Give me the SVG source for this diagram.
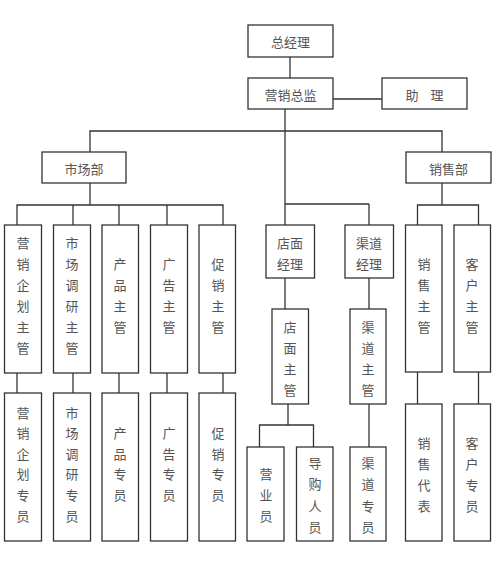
<svg xmlns="http://www.w3.org/2000/svg" width="500" height="564" viewBox="0 0 500 564">
<style>
rect{fill:#fff;stroke:#333;stroke-width:1.3}
.c line,.c polyline{stroke:#333;stroke-width:1.3;fill:none}
text{font-family:"Noto Sans CJK SC","Noto Sans",sans-serif;font-size:13px;fill:#555;text-anchor:middle;dominant-baseline:central}
</style>
<rect x="0" y="0" width="500" height="564" style="stroke:none"/>
<g class="c" id="connectors">
<line x1="290" y1="57" x2="290" y2="78"/>
<line x1="333" y1="99" x2="382" y2="99"/>
<line x1="285" y1="109" x2="285" y2="225"/>
<polyline points="90,152 90,131 442,131 442,152"/>
<line x1="90" y1="183" x2="90" y2="205"/>
<polyline points="17,225 17,205 223,205 223,225"/>
<line x1="73" y1="205" x2="73" y2="225"/>
<line x1="119" y1="205" x2="119" y2="225"/>
<line x1="167" y1="205" x2="167" y2="225"/>
<line x1="285" y1="204" x2="369" y2="204"/>
<line x1="369" y1="204" x2="369" y2="225"/>
<line x1="442" y1="183" x2="442" y2="205"/>
<polyline points="417.5,225 417.5,205 478.5,205 478.5,225"/>
<line x1="17" y1="373" x2="17" y2="393"/>
<line x1="73" y1="373" x2="73" y2="393"/>
<line x1="119" y1="373" x2="119" y2="393"/>
<line x1="167" y1="373" x2="167" y2="393"/>
<line x1="223" y1="373" x2="223" y2="393"/>
<line x1="285" y1="278" x2="285" y2="309"/>
<line x1="369" y1="278" x2="369" y2="309"/>
<line x1="288" y1="404" x2="288" y2="425"/>
<polyline points="259.5,447 259.5,425 313.5,425 313.5,447"/>
<line x1="369" y1="404" x2="369" y2="447"/>
<line x1="417.5" y1="372" x2="417.5" y2="404"/>
<line x1="478.5" y1="372" x2="478.5" y2="404"/>
</g>
<g id="n-zjl"><rect x="248" y="25" width="85" height="32"/><text x="290.5" y="41.5">总经理</text></g>
<g id="n-yxzj"><rect x="248" y="78" width="85" height="31"/><text x="290.5" y="94">营销总监</text></g>
<g id="n-zl"><rect x="382" y="78" width="85" height="31"/><text x="424.5" y="94"><tspan x="412">助</tspan><tspan x="437">理</tspan></text></g>
<g id="n-scb"><rect x="42" y="152" width="84" height="31"/><text x="84" y="168">市场部</text></g>
<g id="n-xsb"><rect x="406" y="152" width="85" height="31"/><text x="448.5" y="168">销售部</text></g>
<g id="n-yxqhzg"><rect x="4.5" y="225" width="37" height="148"/><text><tspan x="23" y="242">营</tspan><tspan x="23" y="263">销</tspan><tspan x="23" y="284">企</tspan><tspan x="23" y="305">划</tspan><tspan x="23" y="326">主</tspan><tspan x="23" y="347">管</tspan></text></g>
<g id="n-scdyzg"><rect x="53.5" y="225" width="37" height="148"/><text><tspan x="72" y="242">市</tspan><tspan x="72" y="263">场</tspan><tspan x="72" y="284">调</tspan><tspan x="72" y="305">研</tspan><tspan x="72" y="326">主</tspan><tspan x="72" y="347">管</tspan></text></g>
<g id="n-cpzg"><rect x="102" y="225" width="36.5" height="148"/><text><tspan x="120" y="263">产</tspan><tspan x="120" y="284">品</tspan><tspan x="120" y="305">主</tspan><tspan x="120" y="326">管</tspan></text></g>
<g id="n-ggzg"><rect x="150.5" y="225" width="37" height="148"/><text><tspan x="169" y="263">广</tspan><tspan x="169" y="284">告</tspan><tspan x="169" y="305">主</tspan><tspan x="169" y="326">管</tspan></text></g>
<g id="n-cxzg"><rect x="199" y="225" width="36.5" height="148"/><text><tspan x="218" y="263">促</tspan><tspan x="218" y="284">销</tspan><tspan x="218" y="305">主</tspan><tspan x="218" y="326">管</tspan></text></g>
<g id="n-dmjl"><rect x="266" y="225" width="48.5" height="53"/><text><tspan x="290" y="242">店面</tspan><tspan x="290" y="263">经理</tspan></text></g>
<g id="n-qdjl"><rect x="345" y="225" width="48.5" height="53"/><text><tspan x="369" y="242">渠道</tspan><tspan x="369" y="263">经理</tspan></text></g>
<g id="n-xszg"><rect x="405.5" y="225" width="36.5" height="147"/><text><tspan x="424" y="263">销</tspan><tspan x="424" y="284">售</tspan><tspan x="424" y="305">主</tspan><tspan x="424" y="326">管</tspan></text></g>
<g id="n-khzg"><rect x="454" y="225" width="36.5" height="147"/><text><tspan x="472" y="263">客</tspan><tspan x="472" y="284">户</tspan><tspan x="472" y="305">主</tspan><tspan x="472" y="326">管</tspan></text></g>
<g id="n-dmzg"><rect x="272" y="309" width="36.5" height="95"/><text><tspan x="290" y="326">店</tspan><tspan x="290" y="347">面</tspan><tspan x="290" y="368">主</tspan><tspan x="290" y="389">管</tspan></text></g>
<g id="n-qdzg"><rect x="350" y="309" width="36" height="95"/><text><tspan x="368" y="326">渠</tspan><tspan x="368" y="347">道</tspan><tspan x="368" y="368">主</tspan><tspan x="368" y="389">管</tspan></text></g>
<g id="n-yxqhzy"><rect x="4.5" y="393" width="37" height="148"/><text><tspan x="23" y="412">营</tspan><tspan x="23" y="432">销</tspan><tspan x="23" y="453">企</tspan><tspan x="23" y="473">划</tspan><tspan x="23" y="494">专</tspan><tspan x="23" y="515">员</tspan></text></g>
<g id="n-scdyzy"><rect x="53.5" y="393" width="37" height="148"/><text><tspan x="72" y="412">市</tspan><tspan x="72" y="432">场</tspan><tspan x="72" y="453">调</tspan><tspan x="72" y="473">研</tspan><tspan x="72" y="494">专</tspan><tspan x="72" y="515">员</tspan></text></g>
<g id="n-cpzy"><rect x="102" y="393" width="36.5" height="148"/><text><tspan x="120" y="432">产</tspan><tspan x="120" y="453">品</tspan><tspan x="120" y="473">专</tspan><tspan x="120" y="494">员</tspan></text></g>
<g id="n-ggzy"><rect x="150.5" y="393" width="37" height="148"/><text><tspan x="169" y="432">广</tspan><tspan x="169" y="453">告</tspan><tspan x="169" y="473">专</tspan><tspan x="169" y="494">员</tspan></text></g>
<g id="n-cxzy"><rect x="199" y="393" width="36.5" height="148"/><text><tspan x="218" y="432">促</tspan><tspan x="218" y="453">销</tspan><tspan x="218" y="473">专</tspan><tspan x="218" y="494">员</tspan></text></g>
<g id="n-yyy"><rect x="247" y="447" width="37" height="94"/><text><tspan x="266" y="473">营</tspan><tspan x="266" y="494">业</tspan><tspan x="266" y="515">员</tspan></text></g>
<g id="n-dgry"><rect x="296.5" y="447" width="36.5" height="94"/><text><tspan x="315" y="462">导</tspan><tspan x="315" y="483">购</tspan><tspan x="315" y="505">人</tspan><tspan x="315" y="526">员</tspan></text></g>
<g id="n-qdzy"><rect x="350" y="447" width="36" height="94"/><text><tspan x="368" y="462">渠</tspan><tspan x="368" y="483">道</tspan><tspan x="368" y="505">专</tspan><tspan x="368" y="526">员</tspan></text></g>
<g id="n-xsdb"><rect x="405.5" y="404" width="36.5" height="137"/><text><tspan x="424" y="442">销</tspan><tspan x="424" y="463">售</tspan><tspan x="424" y="484">代</tspan><tspan x="424" y="505">表</tspan></text></g>
<g id="n-khzy"><rect x="454" y="404" width="36.5" height="137"/><text><tspan x="472" y="442">客</tspan><tspan x="472" y="463">户</tspan><tspan x="472" y="484">专</tspan><tspan x="472" y="505">员</tspan></text></g>
</svg>
